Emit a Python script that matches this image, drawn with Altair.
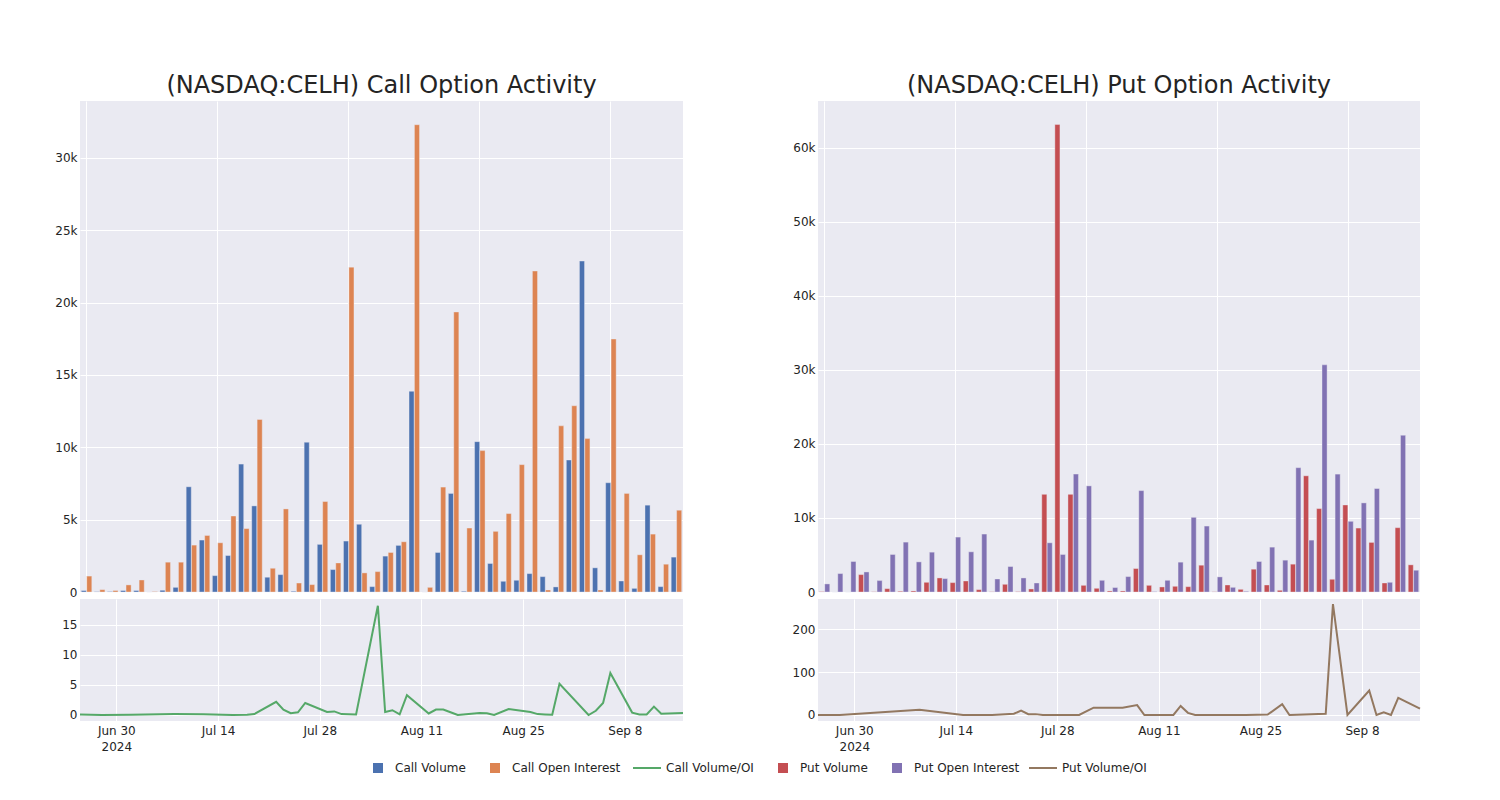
import altair as alt
import pandas as pd

# ---------------- data ----------------
dates = ["2024-06-25", "2024-06-28", "2024-07-02", "2024-07-08", "2024-07-12",
         "2024-07-16", "2024-07-18", "2024-07-19", "2024-07-22", "2024-07-23",
         "2024-07-24", "2024-07-25", "2024-07-26", "2024-07-29", "2024-07-30",
         "2024-07-31", "2024-08-02", "2024-08-05", "2024-08-06", "2024-08-07",
         "2024-08-08", "2024-08-09", "2024-08-12", "2024-08-13", "2024-08-14",
         "2024-08-15", "2024-08-16", "2024-08-19", "2024-08-20", "2024-08-21",
         "2024-08-23", "2024-08-26", "2024-08-27", "2024-08-28", "2024-08-29",
         "2024-08-30", "2024-09-03", "2024-09-04", "2024-09-05", "2024-09-06",
         "2024-09-09", "2024-09-10", "2024-09-11", "2024-09-12", "2024-09-13",
         "2024-09-16"]

call_volume = [100, 20, 30, 100, 100, 0, 120, 320, 7270, 3590,
               1130, 2520, 8840, 5950, 1020, 1200, 50, 10350, 3290, 1550,
               3520, 4680, 370, 2480, 3220, 13870, 0, 2730, 6810, 50,
               10390, 1970, 740, 810, 1270, 1060, 350, 9120, 22870, 1670,
               7550, 760, 250, 6000, 370, 2410]
call_oi = [1100, 160, 100, 490, 830, 30, 2060, 2060, 3240, 3910,
           3400, 5250, 4380, 11920, 1640, 5740, 620, 510, 6250, 2010,
           22450, 1320, 1410, 2730, 3470, 32290, 320, 7250, 19350, 4420,
           9770, 4190, 5420, 8800, 22180, 140, 11480, 12870, 10600, 140,
           17480, 6810, 2570, 4000, 1920, 5650]
call_ratio = [0.1, 0.0, 0.05, 0.15, 0.12, 0.0, 0.06, 0.16, 2.2, 0.9,
              0.3, 0.45, 2.0, 0.5, 0.6, 0.15, 0.08, 18.2, 0.5, 0.8,
              0.1, 3.3, 0.25, 0.9, 0.9, 0.45, 0.0, 0.35, 0.3, 0.0,
              1.0, 0.5, 0.15, 0.1, 0.05, 5.2, 0.0, 0.7, 2.0, 7.0,
              0.4, 0.1, 0.1, 1.4, 0.2, 0.35]

put_volume = [50, 0, 0, 2350, 30, 450, 100, 140, 1310, 1900,
              1270, 1490, 320, 30, 1040, 50, 410, 13200, 63170, 13200,
              900, 500, 140, 140, 3170, 900, 680, 770, 720, 3620,
              30, 950, 360, 3080, 950, 230, 3760, 15700, 11270, 1720,
              11760, 8640, 6700, 1220, 8690, 3670]
put_oi = [1090, 2490, 4120, 2710, 1540, 5070, 6740, 4070, 5380, 1810,
          7420, 5430, 7830, 1760, 3440, 1900, 1220, 6650, 5070, 15930,
          14340, 1580, 600, 2080, 13700, 50, 1580, 4030, 10090, 8910,
          2040, 630, 90, 4120, 6060, 4300, 16800, 7010, 30700, 15930,
          9550, 12040, 13980, 1310, 21180, 2940]

put_ratio_dates = ["2024-06-25", "2024-06-28", "2024-07-09", "2024-07-15", "2024-07-19",
                   "2024-07-22", "2024-07-23", "2024-07-24", "2024-07-25", "2024-07-26",
                   "2024-07-31", "2024-08-02", "2024-08-06", "2024-08-08", "2024-08-09",
                   "2024-08-13", "2024-08-14", "2024-08-15", "2024-08-16", "2024-08-23",
                   "2024-08-26", "2024-08-28", "2024-08-29", "2024-09-03", "2024-09-04",
                   "2024-09-06", "2024-09-09", "2024-09-10", "2024-09-11", "2024-09-12",
                   "2024-09-13", "2024-09-16"]
put_ratio = [0, 0, 12, 0, 0, 3, 10, 2, 2, 0,
             0, 17, 17, 23, 0, 0, 21, 5, 0, 0,
             1, 25, 0, 3, 258, 0, 57, 0, 6, 0,
             40, 15]

call_bar_names = ["Call Volume", "Call Open Interest"]
call_bar_colors = ["#4C72B0", "#DD8452"]
call_line_name = "Call Volume/OI"
call_line_color = "#55A868"
put_bar_names = ["Put Volume", "Put Open Interest"]
put_bar_colors = ["#C44E52", "#8172B3"]
put_line_name = "Put Volume/OI"
put_line_color = "#937860"

call_ticks = [0, 5000, 10000, 15000, 20000, 25000, 30000]
put_ticks = [0, 10000, 20000, 30000, 40000, 50000, 60000]
call_ratio_ticks = [0, 5, 10, 15]
put_ratio_ticks = [0, 100, 200]

# ---------------- style ----------------
FONT = "DejaVu Sans"
TXT = "#242424"
BG = "#EAEAF2"


def bar_legend(x):
    return alt.Legend(
        title=None, orient="none", legendX=x, legendY=661, direction="horizontal",
        labelFont=FONT, labelFontSize=12, labelColor=TXT,
        symbolType="square", symbolSize=100, symbolOpacity=1, symbolStrokeWidth=0,
        labelOffset=11, columnPadding=23,
    )


def line_legend(x):
    return alt.Legend(
        title=None, orient="none", legendX=x, legendY=652, direction="horizontal",
        labelFont=FONT, labelFontSize=12, labelColor=TXT,
        symbolType="stroke", symbolSize=784, symbolOpacity=1, symbolStrokeWidth=2,
        labelOffset=4,
    )


grid_idx = [0, 10, 20, 30, 40]


def bar_panel(vol, oi, names, colors, ymax, yticks, title, width, legx):
    df = pd.DataFrame({"date": dates, names[0]: vol, names[1]: oi})
    long = df.melt("date", var_name="series", value_name="value")
    return alt.Chart(long).mark_bar(stroke=BG, strokeWidth=0.4).encode(
        x=alt.X("date:O", sort=dates,
                scale=alt.Scale(paddingInner=0.2, paddingOuter=0.1),
                axis=alt.Axis(values=[dates[i] for i in grid_idx], labels=False,
                              ticks=False, domain=False, grid=True,
                              title=None, minExtent=0, maxExtent=0)),
        xOffset=alt.XOffset("series:N", sort=names,
                            scale=alt.Scale(paddingInner=0.06, paddingOuter=0)),
        y=alt.Y("value:Q", scale=alt.Scale(domain=[0, ymax], nice=False, zero=True),
                axis=alt.Axis(values=yticks, title=None,
                              labelExpr="datum.value == 0 ? '0' : format(datum.value, '~s')",
                              minExtent=40, maxExtent=40)),
        color=alt.Color("series:N", scale=alt.Scale(domain=names, range=colors),
                        legend=bar_legend(legx)),
    ).properties(
        width=width, height=491,
        title=alt.TitleParams(text=title, font=FONT, fontSize=24, fontWeight="normal",
                              color=TXT, anchor="middle", frame="group", offset=3),
    )


xlab = ("datum.index == 0 ? [utcFormat(datum.value, '%b %-d'), '2024'] "
        ": utcFormat(datum.value, '%b %-d')")
x_dom = [alt.DateTime(year=2024, month=6, date=25, utc=True),
         alt.DateTime(year=2024, month=9, date=16, utc=True)]
x_vals = [alt.DateTime(year=2024, month=m, date=d, utc=True)
          for m, d in [(6, 30), (7, 14), (7, 28), (8, 11), (8, 25), (9, 8)]]


def line_panel(ldates, vals, name, color, ydom, yticks, width, legx):
    df = pd.DataFrame({"date": ldates, "ratio": vals, "series": name})
    return alt.Chart(df).mark_line(strokeWidth=2).encode(
        x=alt.X("date:T", scale=alt.Scale(type="utc", domain=x_dom),
                axis=alt.Axis(values=x_vals, labelExpr=xlab, title=None,
                              labelLineHeight=16, labelPadding=4)),
        y=alt.Y("ratio:Q", scale=alt.Scale(domain=ydom, nice=False, zero=False),
                axis=alt.Axis(values=yticks, title=None, minExtent=40, maxExtent=40)),
        stroke=alt.Stroke("series:N", scale=alt.Scale(domain=[name], range=[color]),
                          legend=line_legend(legx)),
    ).properties(width=width, height=122)


left = alt.vconcat(
    bar_panel(call_volume, call_oi, call_bar_names, call_bar_colors, 33930,
              call_ticks, "(NASDAQ:CELH) Call Option Activity", 603, 292),
    line_panel(dates, call_ratio, call_line_name, call_line_color,
               [-1.0, 19.33], call_ratio_ticks, 603, 552),
    spacing=1,
)
right = alt.vconcat(
    bar_panel(put_volume, put_oi, put_bar_names, put_bar_colors, 66350,
              put_ticks, "(NASDAQ:CELH) Put Option Activity", 602, -41),
    line_panel(put_ratio_dates, put_ratio, put_line_name, put_line_color,
               [-14, 270], put_ratio_ticks, 602, 210),
    spacing=1,
)

chart = alt.hconcat(left, right, spacing=23).resolve_scale(
    color="independent", stroke="independent", xOffset="independent"
).properties(
    padding={"left": 32, "top": 66, "right": 10, "bottom": 10},
    background="white",
).configure_view(fill=BG, strokeWidth=0).configure_axis(
    gridColor="white", gridWidth=1, domain=False, ticks=False, tickSize=0,
    labelFont=FONT, labelFontSize=12, labelColor=TXT, labelPadding=3,
)

chart.save("out.html", embed_options={"renderer": "svg", "actions": False})
